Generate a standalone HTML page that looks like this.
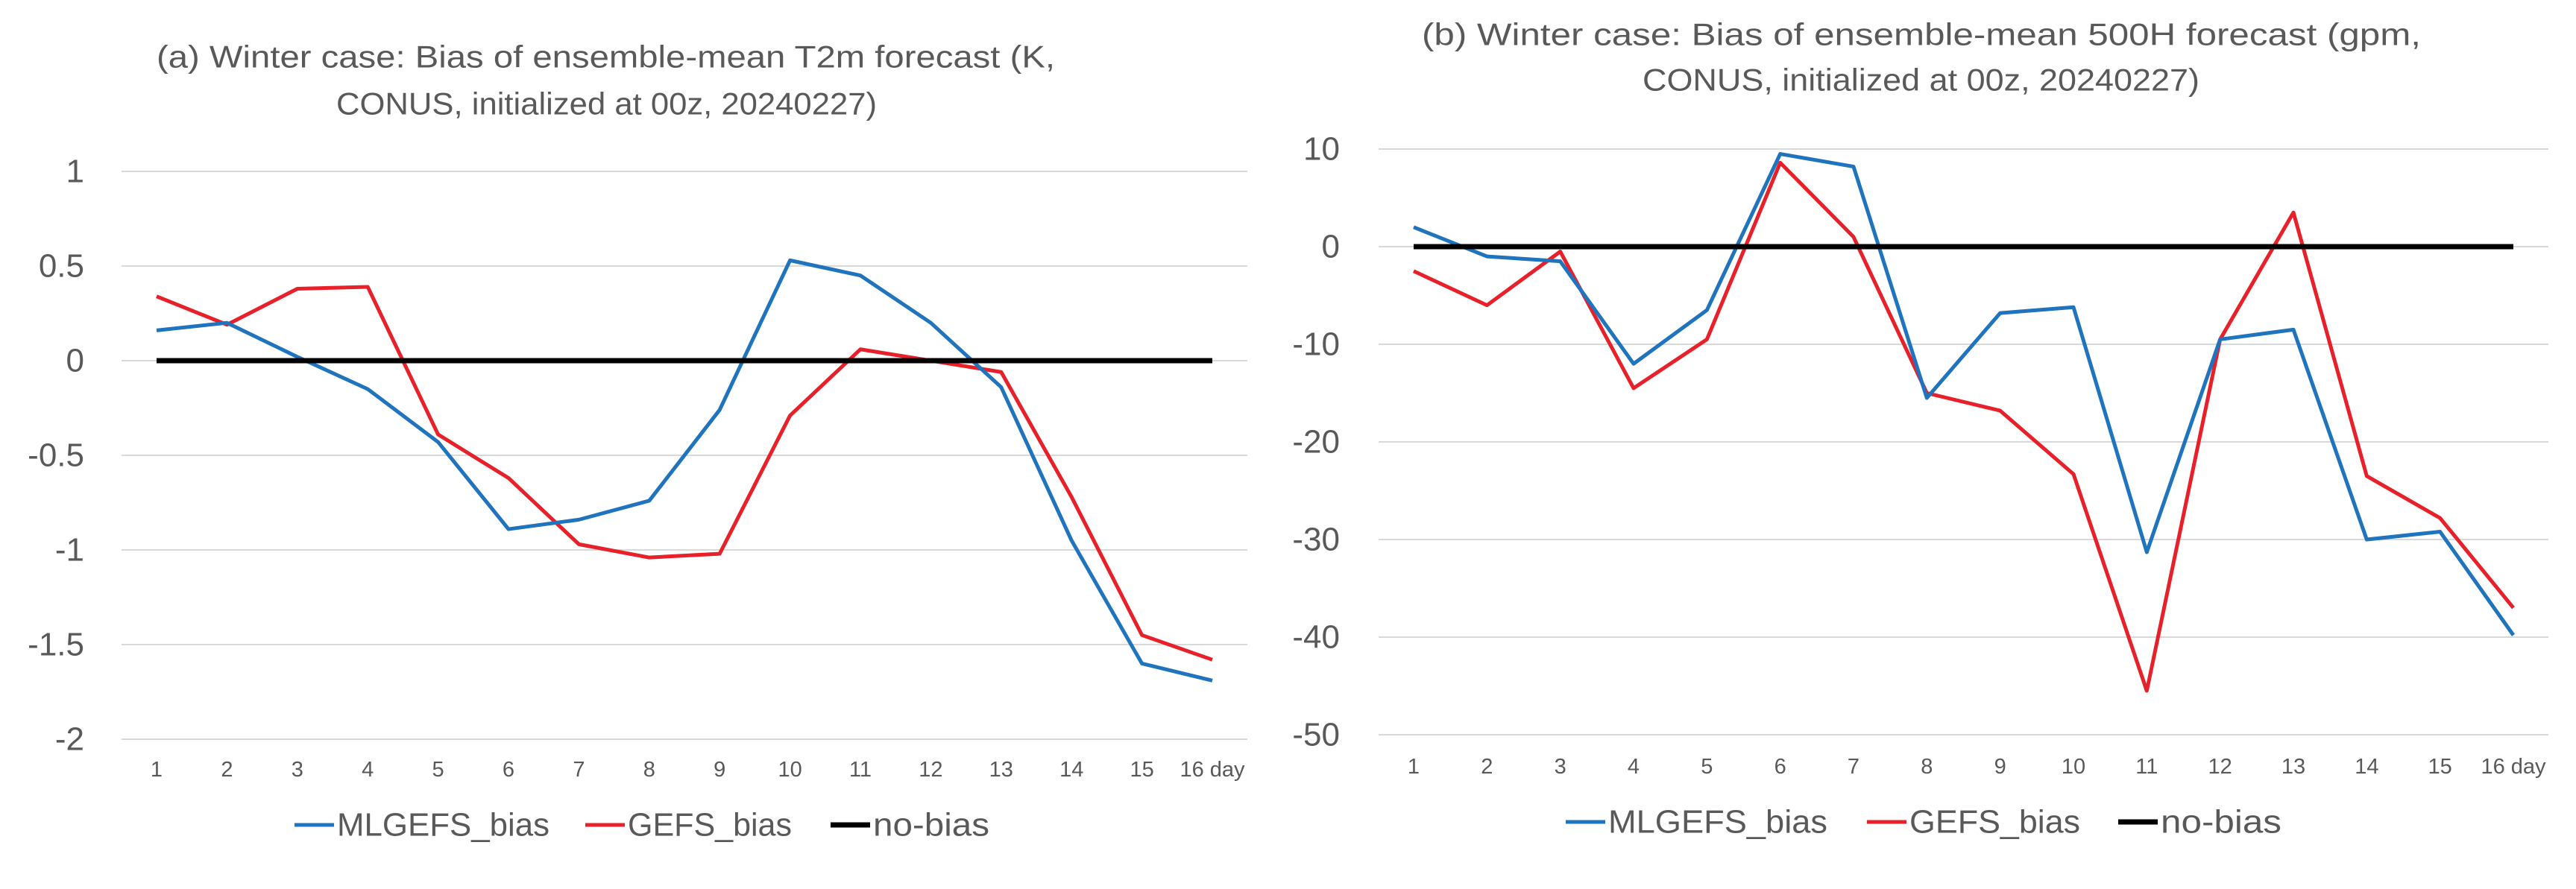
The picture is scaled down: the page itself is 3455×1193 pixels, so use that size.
<!DOCTYPE html>
<html><head><meta charset="utf-8"><style>
html,body{margin:0;padding:0;background:#fff;}
svg{display:block;font-family:"Liberation Sans",sans-serif;}
</style></head><body>
<svg id="s" width="3455" height="1193" xmlns="http://www.w3.org/2000/svg"></svg>
<script>
const days = ["1","2","3","4","5","6","7","8","9","10","11","12","13","14","15","16 day"];
const aML = [0.16,0.2,0.02,-0.15,-0.43,-0.89,-0.84,-0.74,-0.26,0.53,0.45,0.2,-0.14,-0.95,-1.6,-1.69];
const aGEFS = [0.34,0.19,0.38,0.39,-0.39,-0.62,-0.97,-1.04,-1.02,-0.29,0.06,0,-0.06,-0.72,-1.45,-1.58];
const aNo = [0,0,0,0,0,0,0,0,0,0,0,0,0,0,0,0];
const aTicks = [1,0.5,0,-0.5,-1,-1.5,-2];
const bML = [2,-1,-1.5,-12,-6.5,9.5,8.2,-15.5,-6.8,-6.2,-31.3,-9.5,-8.5,-30,-29.2,-39.8];
const bGEFS = [-2.5,-6,-0.5,-14.5,-9.5,8.6,1,-15,-16.8,-23.3,-45.5,-9.5,3.5,-23.5,-27.8,-37];
const bNo = [0,0,0,0,0,0,0,0,0,0,0,0,0,0,0,0];
const bTicks = [10,0,-10,-20,-30,-40,-50];

const NS="http://www.w3.org/2000/svg";
const svg=document.getElementById('s');
function mk(tag,attrs,parent){const e=document.createElementNS(NS,tag);for(const k in attrs)e.setAttribute(k,attrs[k]);(parent||svg).appendChild(e);return e;}

function chart(o){
  const g=mk('g',{});
  
  
  const yS=v=>o.y0+(v-o.vmax)/(o.vmin-o.vmax)*(o.y1-o.y0);
  const xS=i=>o.d1+i*(o.d16-o.d1)/15;
  o.title.forEach((t,i)=>{
    const e=mk('text',{x:o.tx[i],y:o.ty[i],'font-size':42,fill:'#595959',textLength:o.tw[i],lengthAdjust:'spacingAndGlyphs','dominant-baseline':'central'},g);
    e.textContent=t;
    
    
  });
  o.ticks.forEach(v=>{
    const l=mk('line',{x1:o.gx0,x2:o.gx1,y1:yS(v),y2:yS(v),stroke:'#d9d9d9','stroke-width':2},g);
    
    
    const t=mk('text',{x:o.lx,y:yS(v),'font-size':44,fill:'#595959','text-anchor':'end','dominant-baseline':'central'},g);
    t.textContent=String(v);
    
    
  });
  o.cats.forEach((c,i)=>{
    const t=mk('text',{x:xS(i),y:o.xly,'font-size':29,fill:'#595959','text-anchor':'middle','dominant-baseline':'central'},g);
    t.textContent=c;
    
    
  });
  const series=[[o.no,'#000',7,'no-bias-line'],[o.gefs,'#E8202A',5,'gefs-bias-line'],[o.ml,'#1F74BD',5,'mlgefs-bias-line']];
  [series[1],series[2],series[0]].forEach(s=>{
    const p=mk('polyline',{points:s[0].map((v,i)=>xS(i)+','+yS(v)).join(' '),fill:'none',stroke:s[1],'stroke-width':s[2],'stroke-linejoin':'round'},g);
    
    
  });
  const leg=[['MLGEFS_bias','#1F74BD'],['GEFS_bias','#E8202A'],['no-bias','#000']];
  leg.forEach((L,i)=>{
    const lg=mk('g',{},g);
    
    
    mk('line',{x1:o.legx[i],x2:o.legx[i]+53,y1:o.legy,y2:o.legy,stroke:L[1],'stroke-width':L[1]=='#000'?7:5},lg);
    const t=mk('text',{x:o.legx[i]+57,y:o.legy,'font-size':44,fill:'#595959','dominant-baseline':'central',textLength:o.legw[i],lengthAdjust:'spacingAndGlyphs'},lg);
    t.textContent=L[0];
  });
}
chart({name:'chart-a-t2m-bias',vmax:1,vmin:-2,y0:230,y1:992,d1:210,d16:1626,gx0:163,gx1:1673,lx:113,xly:1033,
  ticks:aTicks,cats:days,ml:aML,gefs:aGEFS,no:aNo,
  title:['(a) Winter case: Bias of ensemble-mean T2m forecast (K,','CONUS, initialized at 00z, 20240227)'],
  tx:[210,451],ty:[76,139],tw:[1205,725],legy:1107,legx:[395,785,1114],legw:[285,220,156]});
chart({name:'chart-b-500h-bias',vmax:10,vmin:-50,y0:200,y1:986,d1:1896,d16:3371,gx0:1849,gx1:3418,lx:1797,xly:1029,
  ticks:bTicks,cats:days,ml:bML,gefs:bGEFS,no:bNo,
  title:['(b) Winter case: Bias of ensemble-mean 500H forecast (gpm,','CONUS, initialized at 00z, 20240227)'],
  tx:[1907,2203],ty:[46,107],tw:[1340,747],legy:1103,legx:[2100,2504,2841],legw:[294,229,162]});
</script>
</body></html>
